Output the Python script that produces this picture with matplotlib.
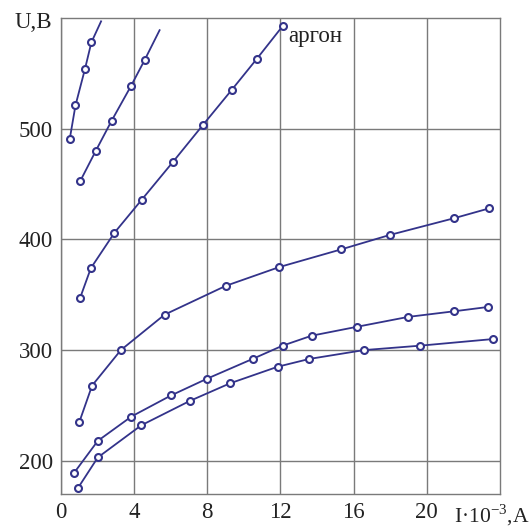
import matplotlib.pyplot as plt

# Вольт-амперные характеристики разряда (аргон)
# I в единицах 10^-3 A, U в вольтах

# кривая 1 (самая крутая)
i1 = [0.48, 0.79, 1.31, 1.66]
u1 = [491, 521, 554, 578]
i1_end, u1_end = 2.19, 597

# кривая 2
i2 = [1.06, 1.90, 2.76, 3.84, 4.57]
u2 = [453, 480, 507, 539, 562]
i2_end, u2_end = 5.39, 589

# кривая 3 (аргон)
i3 = [1.04, 1.63, 2.92, 4.42, 6.12, 7.74, 9.33, 10.70, 12.13]
u3 = [347, 374, 406, 436, 470, 503, 535, 563, 593]

# кривая 4
i4 = [1.00, 1.70, 3.27, 5.66, 9.00, 11.93, 15.32, 17.97, 21.46, 23.40]
u4 = [235, 268, 300, 332, 358, 375, 391, 404, 419, 428]

# кривая 5
i5 = [0.71, 2.01, 3.85, 6.01, 7.96, 10.47, 12.11, 13.70, 16.16, 18.98, 21.46, 23.36]
u5 = [189, 218, 240, 259, 274, 292, 304, 313, 321, 330, 335, 339]

# кривая 6 (нижняя)
i6 = [0.91, 2.01, 4.38, 7.03, 9.24, 11.85, 13.57, 16.56, 19.63, 23.63]
u6 = [175, 203, 232, 254, 270, 285, 292, 300, 304, 310]

x_ticks = [0, 4, 8, 12, 16, 20]
y_ticks = [200, 300, 400, 500]

plt.rcParams['font.family'] = ['Liberation Serif', 'DejaVu Serif']
plt.rcParams['mathtext.fontset'] = 'custom'
plt.rcParams['mathtext.rm'] = 'Liberation Serif'

col = '#33338a'
txt = '#222222'
fs = 16.5

fig = plt.figure(figsize=(5.32, 5.30), dpi=100)
ax = fig.add_axes([0.1147, 0.0679, 0.8251, 0.8981])

curves = [
    (i1 + [i1_end], u1 + [u1_end], i1, u1),
    (i2 + [i2_end], u2 + [u2_end], i2, u2),
    (i3, u3, i3, u3),
    (i4, u4, i4, u4),
    (i5, u5, i5, u5),
    (i6, u6, i6, u6),
]
for lx, ly, mx, my in curves:
    ax.plot(lx, ly, color=col, lw=1.3, zorder=3)
    ax.plot(mx, my, 'o', ms=5, mfc='white', mec=col, mew=1.5, zorder=4)

ax.set_xlim(0, 24)
ax.set_ylim(170, 600)
ax.set_xticks(x_ticks)
ax.set_yticks(y_ticks)
ax.tick_params(length=0, labelsize=fs, colors=txt, pad=6)
ax.grid(True, color='#7a7a7a', lw=1.0)
for s in ax.spines.values():
    s.set_color('#7a7a7a')
    s.set_linewidth(1.0)

ax.text(12.4, 583, 'аргон', fontsize=fs, color=txt, va='center', ha='left')
fig.text(33 / 532, 1 - 22 / 530, 'U,B', fontsize=fs, color=txt, ha='center', va='center')
fig.text(529 / 532, 1 - 515 / 530, r'I·10$^{\mathregular{-3}}$,A', fontsize=15.5, color=txt,
         ha='right', va='center')

fig.savefig('out.png', dpi=100)
